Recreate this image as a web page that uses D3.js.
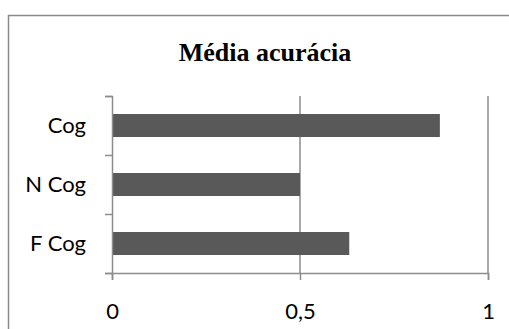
<!DOCTYPE html>
<html>
<head>
<meta charset="utf-8">
<script src="https://cdn.jsdelivr.net/npm/d3@7"></script>
<style>
  body { margin: 0; background: #fff; }
  .axis-label { font-family: Lato, "Open Sans", sans-serif; font-size: 22px; fill: #000; }
  .title { font-family: "Liberation Serif", "Times New Roman", serif; font-weight: bold; font-size: 26px; }
</style>
</head>
<body>
<div id="chart"></div>
<script>
var width = 509
var height = 329

// data
const categories = ["Cog", "N Cog", "F Cog"];
const values = [0.872, 0.5, 0.631];
const xTicks = [0, 0.5, 1];
const xTickLabels = ["0", "0,5", "1"];
const title = "Média acurácia";

const data = categories.map((c, i) => ({ cat: c, val: values[i] }));

var svg = d3.select("#chart").append("svg")
    .attr("width", width)
    .attr("height", height)

// outer chart frame (runs off right and bottom of the picture)
svg.append("rect")
    .attr("x", 8.5)
    .attr("y", 15.5)
    .attr("width", 520)
    .attr("height", 340)
    .attr("fill", "none")
    .attr("stroke", "#8a8a8a")
    .attr("stroke-width", 1.5)

const margin = {top: 96, left: 112, right: 21, bottom: 56}
const innerWidth = width - margin.left - margin.right;
const innerHeight = height - margin.top - margin.bottom;

const xScale = d3.scaleLinear()
    .domain([0, 1])
    .range([0, innerWidth]);

const yScale = d3.scaleBand()
    .domain(categories)
    .range([0, innerHeight])
    .paddingInner(0.61)
    .paddingOuter(0.305);

const g = svg.append("g")
    .attr("transform", `translate(${margin.left}, ${margin.top})`)

// vertical gridlines
g.selectAll(".grid").data(xTicks.slice(1)).enter().append("line")
    .attr("class", "grid")
    .attr("x1", d => xScale(d))
    .attr("x2", d => xScale(d))
    .attr("y1", 0)
    .attr("y2", innerHeight)
    .attr("stroke", "#8c8c8c")
    .attr("stroke-width", 1.5)

g.selectAll(".bar").data(data).enter().append("rect")
    .attr("class", "bar")
    .attr("x", 0)
    .attr("y", d => yScale(d.cat))
    .attr("width", d => xScale(d.val))
    .attr("height", yScale.bandwidth())
    .attr("fill", "#595959")

const xAxis = d3.axisBottom(xScale)
    .tickValues(xTicks)
    .tickFormat((d, i) => xTickLabels[i])
    .tickSize(7)
    .tickPadding(23);

const xAxisG = g.append("g")
    .attr("transform", `translate(0, ${innerHeight})`)
    .call(xAxis);

// category ticks sit on band boundaries, so draw the y axis from a linear scale
const yEdges = d3.scaleLinear().domain([0, categories.length]).range([0, innerHeight]);
const yAxis = d3.axisLeft(yEdges)
    .tickValues(d3.range(categories.length + 1))
    .tickFormat("")
    .tickSize(7);

const yAxisG = g.append("g").call(yAxis);

[xAxisG, yAxisG].forEach(a => {
    a.select(".domain").attr("stroke", "#8c8c8c").attr("stroke-width", 1.5);
    a.selectAll(".tick line").attr("stroke", "#8c8c8c").attr("stroke-width", 1.5);
});
xAxisG.attr("font-size", null).attr("font-family", null);
xAxisG.selectAll("text").attr("class", "axis-label");

g.selectAll(".cat-label").data(data).enter().append("text")
    .attr("class", "axis-label")
    .attr("x", -26)
    .attr("y", d => yScale(d.cat) + yScale.bandwidth() / 2)
    .attr("dy", "0.35em")
    .attr("text-anchor", "end")
    .text(d => d.cat)

svg.append("text")
    .attr("class", "title")
    .attr("x", 265)
    .attr("y", 61)
    .attr("text-anchor", "middle")
    .text(title)
</script>
</body>
</html>
